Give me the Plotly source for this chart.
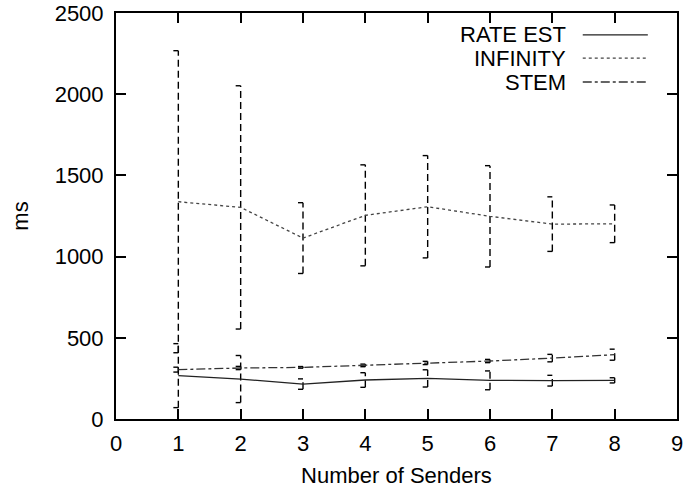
import plotly.graph_objects as go

senders = [1, 2, 3, 4, 5, 6, 7, 8]

rate_est = [267, 246, 215, 240, 250, 238, 236, 238]
rate_est_err = [197, 145, 32, 45, 53, 58, 33, 16]

infinity = [1338, 1303, 1114, 1254, 1307, 1248, 1200, 1202]
infinity_err = [930, 749, 218, 311, 315, 312, 168, 116]

stem = [304, 314, 318, 330, 345, 357, 375, 396]
stem_err = [15, 10, 5, 8, 10, 10, 23, 34]

series_names = ["RATE EST", "INFINITY", "STEM"]
series_dash = ["solid", "dot", "dashdot"]

x_ticks = list(range(0, 10))
y_ticks = [0, 500, 1000, 1500, 2000, 2500]

FONT = "Liberation Sans, Arial, Helvetica, sans-serif"
CAP = 0.08

fig = go.Figure()


def add_errorbars(xs, ys, errs):
    vx, vy, cx, cy = [], [], [], []
    for x, y, e in zip(xs, ys, errs):
        lo, hi = y - e, y + e
        vx += [x, x, None]
        vy += [lo, hi, None]
        for v in (lo, hi):
            cx += [x - CAP, x, None]
            cy += [v, v, None]
    fig.add_trace(go.Scatter(x=vx, y=vy, mode="lines", showlegend=False,
                             hoverinfo="skip",
                             line=dict(color="black", width=1.4, dash="7px,4px")))
    fig.add_trace(go.Scatter(x=cx, y=cy, mode="lines", showlegend=False,
                             hoverinfo="skip",
                             line=dict(color="black", width=1.4)))


data = [(rate_est, rate_est_err), (infinity, infinity_err), (stem, stem_err)]
for (ys, errs) in data:
    add_errorbars(senders, ys, errs)

line_colors = ["#222222", "#444444", "#333333"]
for name, (ys, _), dash, col in zip(series_names, data, series_dash, line_colors):
    fig.add_trace(go.Scatter(x=senders, y=ys, mode="lines", name=name,
                             showlegend=False,
                             line=dict(color=col, width=1.3, dash=dash)))

# manual legend (gnuplot-style: right-aligned text with sample line on the right)
leg_y = [0.946, 0.889, 0.830]
for name, dash, col, yy in zip(series_names, series_dash, line_colors, leg_y):
    fig.add_annotation(x=0.806, y=yy, xref="paper", yref="paper", text=name,
                       showarrow=False, xanchor="right", yanchor="middle",
                       font=dict(family=FONT, size=22, color="black"))
    fig.add_shape(type="line", xref="paper", yref="paper",
                  x0=0.832, x1=0.948, y0=yy, y1=yy,
                  line=dict(color=col, width=1.3, dash=dash))

axis_common = dict(
    showline=True, linecolor="black", linewidth=2, mirror="ticks",
    ticks="inside", ticklen=10, tickwidth=2, tickcolor="black",
    showgrid=False, zeroline=False, automargin=False,
    ticklabeloverflow="allow",
    tickfont=dict(family=FONT, size=22, color="black"),
)

fig.update_xaxes(range=[0, 9], tickvals=x_ticks, ticktext=[str(v) for v in x_ticks],
                 title=dict(text="Number of Senders", standoff=12,
                            font=dict(family=FONT, size=22, color="black")),
                 ticklabelstandoff=4,
                 **axis_common)
fig.update_yaxes(range=[0, 2500], tickvals=y_ticks, ticktext=[str(v) for v in y_ticks],
                 title=dict(text="ms", standoff=20,
                            font=dict(family=FONT, size=22, color="black")),
                 ticklabelstandoff=6,
                 **axis_common)

fig.update_layout(
    width=683, height=491,
    margin=dict(l=116, r=6, t=13, b=72),
    paper_bgcolor="white", plot_bgcolor="white",
    showlegend=False,
)

fig.write_html("out.html",
               config={"displayModeBar": False},
               post_script="document.body.style.margin='0';document.body.style.overflow='hidden';")
